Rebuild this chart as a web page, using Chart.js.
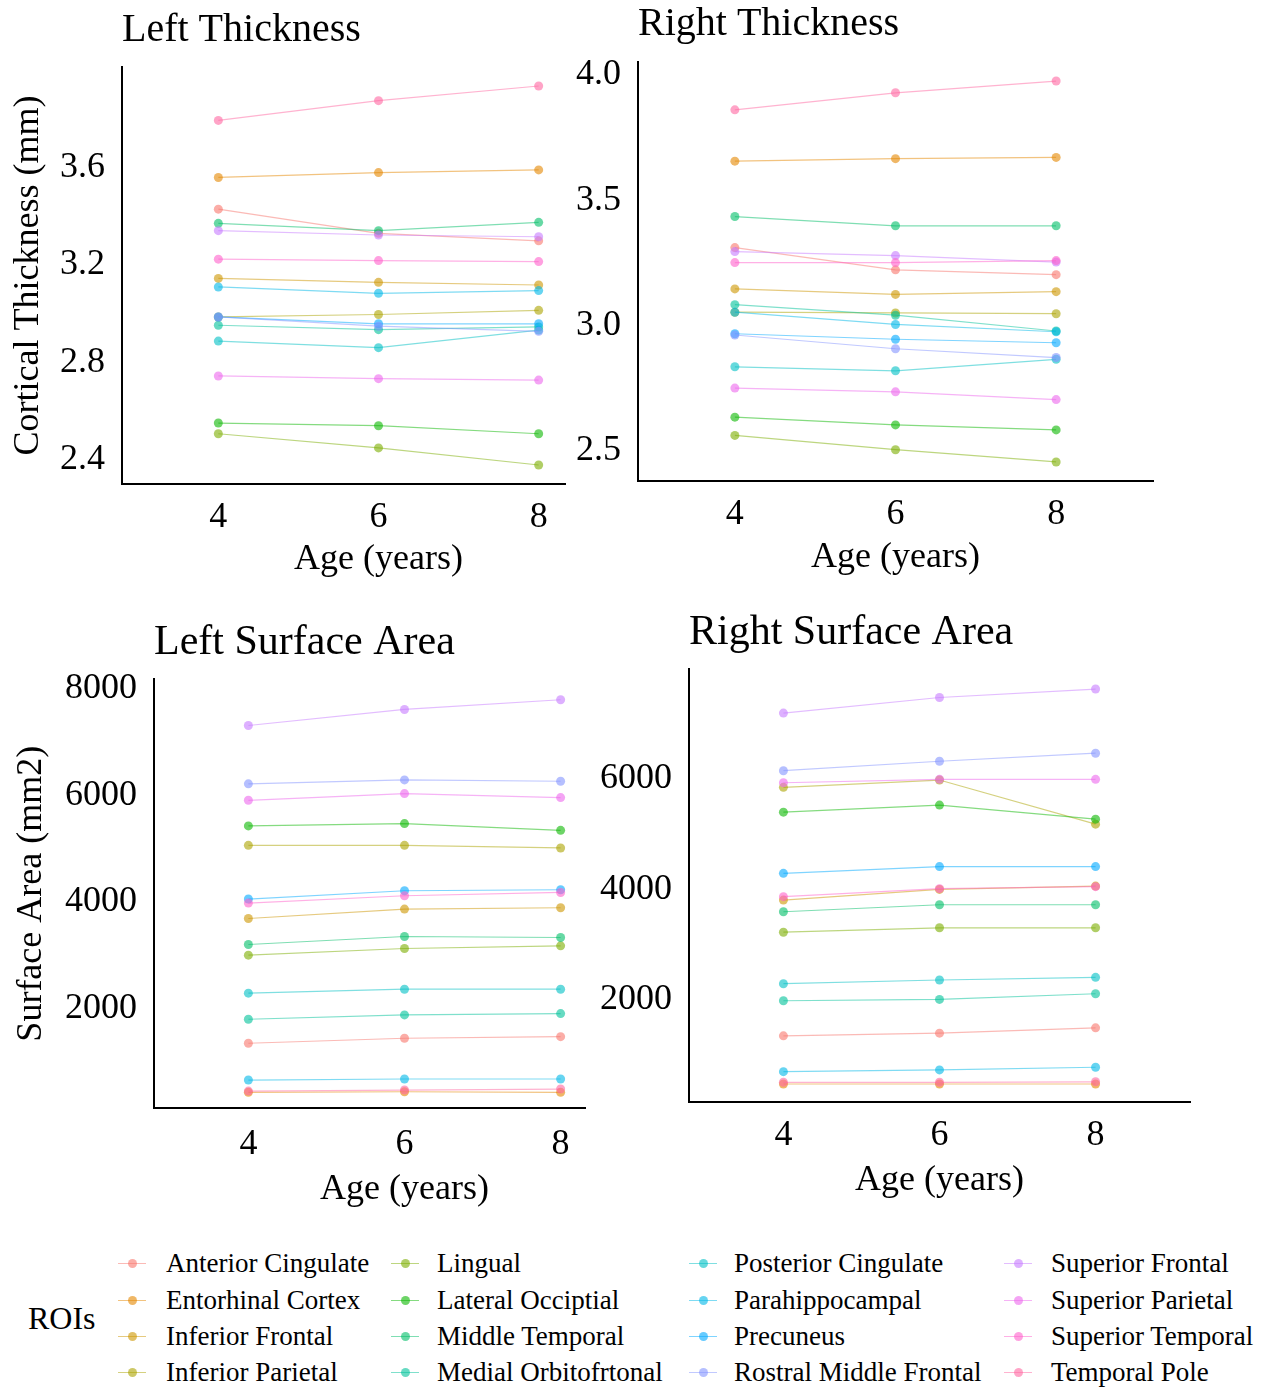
<!DOCTYPE html>
<html lang="en">
<head>
<meta charset="UTF-8">
<title>Cortical thickness and surface area by age</title>
<script src="https://cdn.jsdelivr.net/npm/chart.js@4"></script>
<style>
  body { margin: 0; background: #fff; font-family: 'Liberation Serif', 'Times New Roman', serif; color: #000; }
  #page { position: relative; width: 1262px; height: 1391px; overflow: hidden; background: #fff; }
  #page canvas { position: absolute; background: #fff; }
  .legend-title { position: absolute; left: 28px; top: 1298px; font-size: 32px; line-height: 40px; }
  .legend-text { position: absolute; font-size: 27px; line-height: 36px; white-space: nowrap; }
  .legend-line { position: absolute; width: 28px; height: 1px; }
  .legend-dot { position: absolute; width: 9px; height: 9px; border-radius: 50%; }
</style>
</head>
<body>
<div id="page">
  <canvas id="leftThickness"></canvas>
  <canvas id="leftArea"></canvas>
  <canvas id="rightThickness"></canvas>
  <canvas id="rightArea"></canvas>
  <div class="legend-title">ROIs</div>
</div>
<script>
const ages = [4, 6, 8];
const ageTicks = [4, 6, 8];

const rois = ['Anterior Cingulate', 'Entorhinal Cortex', 'Inferior Frontal', 'Inferior Parietal',
  'Lingual', 'Lateral Occiptial', 'Middle Temporal', 'Medial Orbitofrtonal',
  'Posterior Cingulate', 'Parahippocampal', 'Precuneus', 'Rostral Middle Frontal',
  'Superior Frontal', 'Superior Parietal', 'Superior Temporal', 'Temporal Pole'];

const roiColors = ['#F8766D', '#E58700', '#CD9600', '#ABA300', '#7CAE00', '#0CB702', '#00BE67', '#00C19A',
  '#00BFC4', '#00B8E7', '#00A9FF', '#8494FF', '#C77CFF', '#ED68ED', '#FF61CC', '#FF68A1'];

// one row per ROI (same order as rois), values at ages 4, 6, 8
const leftThickness = [
  [3.412, 3.313, 3.282], [3.542, 3.562, 3.573], [3.128, 3.112, 3.101], [2.970, 2.980, 2.997],
  [2.491, 2.433, 2.363], [2.535, 2.524, 2.491], [3.354, 3.324, 3.358], [2.936, 2.918, 2.929],
  [2.871, 2.844, 2.916], [3.093, 3.067, 3.078], [2.970, 2.942, 2.942], [2.970, 2.932, 2.911],
  [3.324, 3.306, 3.299], [2.728, 2.717, 2.711], [3.207, 3.201, 3.197], [3.776, 3.857, 3.917]
];
const rightThickness = [
  [3.295, 3.206, 3.187], [3.640, 3.650, 3.655], [3.130, 3.108, 3.119], [3.037, 3.034, 3.031],
  [2.545, 2.488, 2.439], [2.618, 2.587, 2.567], [3.419, 3.382, 3.382], [3.067, 3.025, 2.962],
  [2.819, 2.803, 2.849], [3.037, 2.988, 2.959], [2.951, 2.929, 2.915], [2.946, 2.891, 2.856],
  [3.279, 3.263, 3.237], [2.734, 2.719, 2.688], [3.235, 3.235, 3.243], [3.845, 3.913, 3.960]
];
const leftArea = [
  [1269, 1363, 1393], [348, 359, 348], [3611, 3788, 3813], [4984, 4984, 4935],
  [2923, 3048, 3098], [5349, 5392, 5266], [3123, 3273, 3254], [1720, 1801, 1826],
  [2209, 2284, 2284], [579, 598, 598], [3976, 4132, 4151], [6138, 6213, 6187],
  [7234, 7535, 7717], [5830, 5956, 5881], [3901, 4038, 4100], [372, 391, 410]
];
const rightArea = [
  [1273, 1322, 1418], [400, 400, 400], [3733, 3927, 3987], [5776, 5909, 5109],
  [3151, 3231, 3231], [5327, 5455, 5200], [3522, 3649, 3649], [1909, 1933, 2036],
  [2218, 2285, 2333], [624, 655, 704], [4218, 4340, 4340], [6078, 6249, 6395],
  [7122, 7405, 7558], [5860, 5922, 5922], [3795, 3940, 3977], [431, 431, 440]
];

const leftThicknessTicks = [2.4, 2.8, 3.2, 3.6];
const rightThicknessTicks = [2.5, 3.0, 3.5, 4.0];
const leftAreaTicks = [2000, 4000, 6000, 8000];
const rightAreaTicks = [2000, 4000, 6000];

Chart.defaults.font.family = "'Liberation Serif', 'Times New Roman', serif";
Chart.defaults.color = '#000';

function rgba(hex, a) {
  const n = parseInt(hex.slice(1), 16);
  return `rgba(${n >> 16}, ${(n >> 8) & 255}, ${n & 255}, ${a})`;
}

// panel geometry: where each canvas sits on the page and how wide its axes are
const panels = [
  { id: 'leftThickness', title: 'Left Thickness', titleSize: 40, titlePad: 13, yTitle: 'Cortical Thickness (mm)',
    values: leftThickness, yTicks: leftThicknessTicks, decimals: 1,
    left: 0, top: 6, width: 650, height: 594, padRight: 15, axisW: 122, axisH: 116,
    xMin: 2.797, xMax: 9.203, yMin: 2.285, yMax: 3.995, tickPadX: 12, titlePadX: 19, yTitlePad: 7 },
  { id: 'rightThickness', title: 'Right Thickness', titleSize: 40, titlePad: 14, yTitle: '',
    values: rightThickness, yTicks: rightThicknessTicks, decimals: 1,
    left: 566, top: 0, width: 599, height: 597, padRight: 12, axisW: 72, axisH: 116,
    xMin: 2.794, xMax: 9.206, yMin: 2.363, yMax: 4.036, tickPadX: 12, titlePadX: 18, yTitlePad: 0 },
  { id: 'leftArea', title: 'Left Surface Area', titleSize: 42, titlePad: 11, yTitle: 'Surface Area (mm2)',
    values: leftArea, yTicks: leftAreaTicks, decimals: 0,
    left: 0, top: 618, width: 670, height: 612, padRight: 15, axisW: 154, axisH: 122,
    xMin: 2.791, xMax: 9.209, yMin: 54, yMax: 8099, tickPadX: 15, titlePadX: 19, yTitlePad: 10 },
  { id: 'rightArea', title: 'Right Surface Area', titleSize: 42, titlePad: 11, yTitle: '',
    values: rightArea, yTicks: rightAreaTicks, decimals: 0,
    left: 586, top: 608, width: 614, height: 617, padRight: 10, axisW: 103, axisH: 123,
    xMin: 2.79, xMax: 9.21, yMin: 74, yMax: 7914, tickPadX: 12, titlePadX: 23, yTitlePad: 0 }
];

panels.forEach(p => {
  const canvas = document.getElementById(p.id);
  canvas.width = p.width;
  canvas.height = p.height;
  canvas.style.left = p.left + 'px';
  canvas.style.top = p.top + 'px';
  canvas.style.width = p.width + 'px';
  canvas.style.height = p.height + 'px';

  new Chart(canvas, {
    type: 'line',
    data: {
      datasets: rois.map((name, i) => ({
        label: name,
        data: ages.map((age, j) => ({ x: age, y: p.values[i][j] })),
        borderColor: rgba(roiColors[i], 0.5),
        backgroundColor: rgba(roiColors[i], 0.6),
        pointBackgroundColor: rgba(roiColors[i], 0.6),
        pointBorderColor: rgba(roiColors[i], 0.6),
        pointBorderWidth: 0,
        pointRadius: 4.5,
        borderWidth: 1.2,
        order: rois.length - i
      }))
    },
    options: {
      responsive: false,
      animation: false,
      layout: { padding: { right: p.padRight } },
      plugins: {
        legend: { display: false },
        tooltip: { enabled: false },
        title: {
          display: true, text: p.title, align: 'start', fullSize: false,
          font: { size: p.titleSize, weight: 'normal' },
          padding: { top: 0, bottom: p.titlePad }
        }
      },
      scales: {
        x: {
          type: 'linear', min: p.xMin, max: p.xMax,
          afterBuildTicks: s => { s.ticks = ageTicks.map(v => ({ value: v })); },
          afterFit: s => { s.height = p.axisH; },
          grid: { display: false, drawTicks: false },
          border: { display: true, color: '#000', width: 2 },
          ticks: { font: { size: 36 }, padding: p.tickPadX, maxRotation: 0 },
          title: { display: true, text: 'Age (years)', font: { size: 36 }, padding: { top: 0, bottom: p.titlePadX } }
        },
        y: {
          type: 'linear', min: p.yMin, max: p.yMax,
          afterBuildTicks: s => { s.ticks = p.yTicks.map(v => ({ value: v })); },
          afterFit: s => { s.width = p.axisW; },
          grid: { display: false, drawTicks: false },
          border: { display: true, color: '#000', width: 2 },
          ticks: { font: { size: 36 }, padding: 17, labelOffset: 4, callback: v => v.toFixed(p.decimals) },
          title: { display: !!p.yTitle, text: p.yTitle, font: { size: 36 }, padding: { top: p.yTitlePad, bottom: 0 } }
        }
      }
    }
  });
});

// shared legend, four columns filled top to bottom
const page = document.getElementById('page');
const keyX = [132, 405, 703, 1018];
const textX = [166, 437, 734, 1051];
const rowY = [1263, 1300, 1336, 1372];
rois.forEach((name, i) => {
  const col = Math.floor(i / 4), row = i % 4;
  const line = document.createElement('div');
  line.className = 'legend-line';
  line.style.left = (keyX[col] - 14) + 'px';
  line.style.top = (rowY[row] - 0.5) + 'px';
  line.style.background = rgba(roiColors[i], 0.5);
  const dot = document.createElement('div');
  dot.className = 'legend-dot';
  dot.style.left = (keyX[col] - 4.5) + 'px';
  dot.style.top = (rowY[row] - 4.5) + 'px';
  dot.style.background = rgba(roiColors[i], 0.6);
  const text = document.createElement('div');
  text.className = 'legend-text';
  text.style.left = textX[col] + 'px';
  text.style.top = (rowY[row] - 18) + 'px';
  text.textContent = name;
  page.append(line, dot, text);
});
</script>
</body>
</html>
